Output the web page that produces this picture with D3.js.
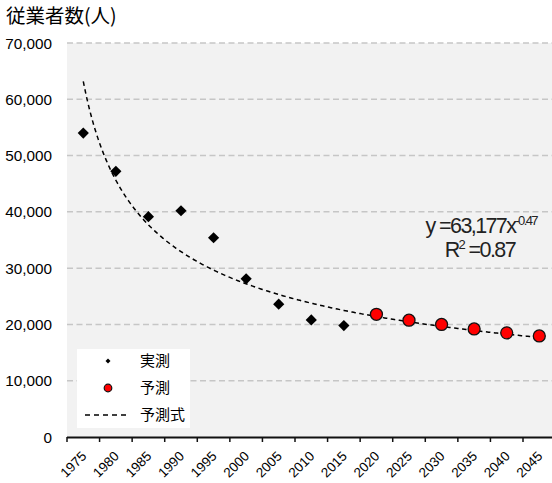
<!DOCTYPE html>
<html><head><meta charset="utf-8">
<script src="https://cdn.jsdelivr.net/npm/d3@7"></script>
<style>
html,body{margin:0;padding:0;background:#fff;}
svg{display:block;}
</style></head>
<body><svg id="c" width="552" height="483"></svg>
<script>
// ---- data ----
const years = ["1975","1980","1985","1990","1995","2000","2005","2010","2015","2020","2025","2030","2035","2040","2045"];
const actualYears = ["1975","1980","1985","1990","1995","2000","2005","2010","2015"];
const actualValues = [54000, 47200, 39150, 40200, 35400, 28100, 23600, 20800, 19800];
const forecastYears = ["2020","2025","2030","2035","2040","2045"];
const forecastValues = [21800, 20750, 20000, 19200, 18500, 17950];
const trendCoef = 63177;
const trendExp = -0.47;
const yTicks = [0,10000,20000,30000,40000,50000,60000,70000];
const titleText = "従業者数(人)";
const legendLabels = ["実測","予測","予測式"];
const eqLine1 = "y =63,177x";
const eqSup = "-0.47";
const eqLine2a = "R";
const eqLine2b = "=0.87";

(function(){
// ---- layout ----
const W = 552, H = 483;
const pLeft = 67, pTop = 43, pBottom = 437;
const step = 456/14;
const svg = d3.select("#c");
const numFont = "'Liberation Sans', Arial, sans-serif";
const jpFont = "'Noto Sans CJK JP', sans-serif";

const x = d3.scaleBand().domain(years).range([pLeft, pLeft + step*years.length]).paddingInner(0).paddingOuter(0);
const y = d3.scaleLinear().domain([0,70000]).range([pBottom, pTop]);
const cx = d => x(d) + x.bandwidth()/2;

// plot background
svg.append("rect").attr("x", pLeft).attr("y", pTop).attr("width", W-pLeft).attr("height", pBottom-pTop).attr("fill", "#f2f2f2");

// gridlines
svg.append("g").selectAll("line").data(yTicks.filter(v=>v>0)).join("line")
  .attr("x1", pLeft).attr("x2", W).attr("y1", d=>y(d)).attr("y2", d=>y(d))
  .attr("stroke", "#c6c6c6").attr("stroke-width", 1.5).attr("stroke-dasharray", "6,3.5");

// y labels
svg.append("g").selectAll("text").data(yTicks).join("text")
  .attr("x", 52).attr("y", d=>y(d)).attr("dy", "0.36em")
  .attr("text-anchor", "end").attr("font-family", numFont).attr("font-size", 15.3)
  .attr("fill", "#000").text(d=>d3.format(",")(d));

// x axis
const xAxis = d3.axisBottom(x).tickSizeOuter(0).tickSize(5);
const gx = svg.append("g").attr("transform", `translate(0,${pBottom})`).call(xAxis);
gx.select(".domain").remove();
gx.append("line").attr("x1", pLeft).attr("x2", W).attr("y1", 0.5).attr("y2", 0.5).attr("stroke", "#111").attr("stroke-width", 2);
gx.selectAll(".tick line").attr("transform", `translate(${-x.bandwidth()/2},0)`).attr("stroke", "#111").attr("stroke-width", 1.5);
gx.selectAll(".tick text")
  .attr("font-family", numFont).attr("font-size", 13.5).attr("fill", "#000")
  .attr("text-anchor", "end").attr("y", 0).attr("dy", 0)
  .attr("transform", "translate(4,20) rotate(-45)");

// trendline
const idx = d3.scaleLinear().domain([1, years.length]).range([cx(years[0]), cx(years[years.length-1])]);
const trendPts = d3.range(1, years.length + 0.001, 0.05).map(t => [idx(t), y(trendCoef*Math.pow(t, trendExp))]);
svg.append("path").attr("d", d3.line()(trendPts)).attr("fill","none")
  .attr("stroke","#000").attr("stroke-width",1.5).attr("stroke-dasharray","4.5,3.5");

// actual diamonds
const diamond = d3.symbol().type(d3.symbolDiamond2).size(80);
svg.append("g").selectAll("path").data(actualYears.map((k,i)=>({k, v: actualValues[i]}))).join("path")
  .attr("d", diamond).attr("transform", d=>`translate(${cx(d.k)},${y(d.v)})`)
  .attr("fill", "#000");

// forecast circles
svg.append("g").selectAll("circle").data(forecastYears.map((k,i)=>({k, v: forecastValues[i]}))).join("circle")
  .attr("cx", d=>cx(d.k)).attr("cy", d=>y(d.v)).attr("r", 6)
  .attr("fill", "#ff0000").attr("stroke", "#111").attr("stroke-width", 1.3);

// equation
const eq = svg.append("text").attr("x", 537).attr("y", 233).attr("text-anchor","end")
  .attr("font-family", numFont).attr("font-size", 21.5).attr("fill","#222").attr("letter-spacing", -1.6);
eq.append("tspan").text(eqLine1);
eq.append("tspan").attr("font-size", 13).attr("dy", -8).text(eqSup);
const eq2 = svg.append("text").attr("x", 515).attr("y", 257).attr("text-anchor","end")
  .attr("font-family", numFont).attr("font-size", 21.5).attr("fill","#222").attr("letter-spacing", -1.6);
eq2.append("tspan").text(eqLine2a);
eq2.append("tspan").attr("font-size", 13).attr("dy", -8).text("2");
eq2.append("tspan").attr("dy", 8).text(" " + eqLine2b);

// legend
const lg = svg.append("g");
lg.append("rect").attr("x", 77).attr("y", 349).attr("width", 113).attr("height", 79).attr("fill", "#fff");
const rows = [361, 388, 415];
lg.append("path").attr("d", d3.symbol().type(d3.symbolDiamond2).size(16)).attr("transform", `translate(108,${rows[0]})`).attr("fill","#000");
lg.append("circle").attr("cx",108).attr("cy",rows[1]).attr("r",3.8).attr("fill","#ff0000").attr("stroke","#111").attr("stroke-width",1.2);
lg.append("line").attr("x1",85).attr("x2",130).attr("y1",rows[2]).attr("y2",rows[2]).attr("stroke","#000").attr("stroke-width",1.5).attr("stroke-dasharray","5,4");
lg.selectAll("text.l").data(legendLabels).join("text").attr("class","l")
  .attr("x", 140).attr("y", (d,i)=>rows[i]).attr("dy","0.36em")
  .attr("font-family", jpFont).attr("font-size", 15).attr("fill","#000").text(d=>d);

// title
svg.append("text").attr("x", 6).attr("y", 23).attr("font-family", jpFont).attr("font-size", 19.5).attr("fill","#000").text(titleText);
})();
</script></body></html>
